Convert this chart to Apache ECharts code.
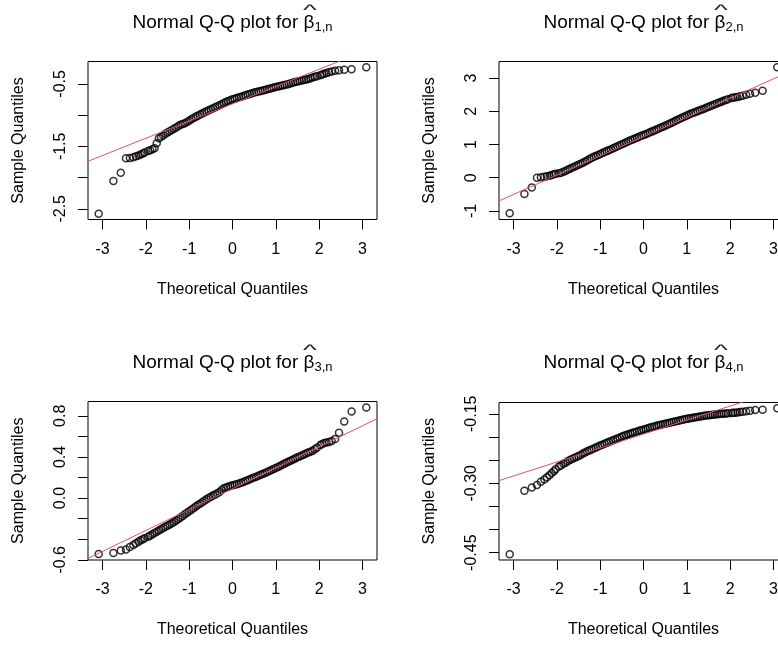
<!DOCTYPE html>
<html><head><meta charset="utf-8">
<script src="https://cdn.jsdelivr.net/npm/echarts@6/dist/echarts.min.js"></script>
<style>html,body{margin:0;padding:0;background:#fff}#c{width:778px;height:646px}</style>
</head><body><div id="c"></div>
<script>
// Theoretical normal quantiles (shared by all four panels)
const theoretical = [
-3.09,-2.75,-2.58,-2.46,-2.37,-2.29,-2.23,-2.17,-2.12,-2.07,-2.03,
-1.95,-1.9,-1.85,-1.8,-1.75,-1.7,-1.65,-1.6,-1.55,-1.5,
-1.45,-1.4,-1.35,-1.3,-1.25,-1.2,-1.15,-1.1,-1.05,-1,
-0.95,-0.9,-0.85,-0.8,-0.75,-0.7,-0.65,-0.6,-0.55,-0.5,
-0.45,-0.4,-0.35,-0.3,-0.25,-0.2,-0.15,-0.1,-0.05,0,
0.05,0.1,0.15,0.2,0.25,0.3,0.35,0.4,0.45,0.5,
0.55,0.6,0.65,0.7,0.75,0.8,0.85,0.9,0.95,1,
1.05,1.1,1.15,1.2,1.25,1.3,1.35,1.4,1.45,1.5,
1.55,1.6,1.65,1.7,1.75,1.8,1.85,1.9,1.95,
2.03,2.07,2.12,2.17,2.23,2.29,2.37,2.46,2.58,2.75,3.09];

const sampleB1 = [
-2.58,-2.054,-1.925,-1.69,-1.685,-1.675,-1.66,-1.645,-1.63,-1.615,-1.60,
-1.575,-1.562,-1.548,-1.53,-1.45,-1.37,-1.345,-1.325,-1.30,-1.277,
-1.258,-1.24,-1.218,-1.197,-1.175,-1.154,-1.143,-1.132,-1.11,-1.09,
-1.068,-1.047,-1.028,-1.009,-0.99,-0.972,-0.955,-0.939,-0.923,-0.907,
-0.891,-0.875,-0.859,-0.843,-0.824,-0.805,-0.789,-0.773,-0.76,-0.747,
-0.736,-0.725,-0.714,-0.704,-0.693,-0.682,-0.671,-0.661,-0.65,-0.639,
-0.631,-0.623,-0.615,-0.607,-0.596,-0.586,-0.578,-0.57,-0.559,-0.548,
-0.54,-0.532,-0.524,-0.516,-0.508,-0.5,-0.49,-0.479,-0.47,-0.462,
-0.454,-0.446,-0.438,-0.43,-0.42,-0.409,-0.398,-0.387,-0.376,
-0.36,-0.35,-0.338,-0.326,-0.312,-0.3,-0.29,-0.28,-0.272,-0.266,-0.235];

const sampleB2 = [
-1.07,-0.494,-0.293,0.0,0.01,0.03,0.045,0.06,0.08,0.1,0.115,
0.13,0.15,0.18,0.2,0.24,0.27,0.3,0.33,0.36,0.39,
0.42,0.45,0.49,0.52,0.56,0.59,0.63,0.655,0.68,0.71,
0.74,0.77,0.8,0.83,0.86,0.89,0.92,0.95,0.98,1.01,
1.04,1.07,1.1,1.125,1.15,1.18,1.205,1.23,1.26,1.285,
1.31,1.34,1.365,1.395,1.42,1.45,1.48,1.51,1.535,1.565,
1.595,1.625,1.655,1.685,1.72,1.75,1.78,1.81,1.84,1.87,
1.9,1.93,1.955,1.98,2.005,2.03,2.055,2.08,2.11,2.135,
2.16,2.19,2.215,2.24,2.265,2.29,2.315,2.34,2.36,
2.4,2.41,2.42,2.43,2.45,2.47,2.5,2.53,2.56,2.62,3.33];

const sampleB3 = [
-0.544,-0.533,-0.51,-0.5,-0.475,-0.455,-0.44,-0.425,-0.41,-0.4,-0.39,
-0.375,-0.365,-0.352,-0.34,-0.328,-0.315,-0.302,-0.29,-0.279,-0.268,
-0.256,-0.245,-0.232,-0.218,-0.203,-0.188,-0.173,-0.158,-0.143,-0.128,
-0.113,-0.098,-0.083,-0.068,-0.054,-0.04,-0.025,-0.011,0.002,0.014,
0.025,0.036,0.046,0.058,0.078,0.096,0.104,0.111,0.118,0.124,
0.13,0.135,0.141,0.149,0.157,0.165,0.174,0.183,0.192,0.2,
0.208,0.217,0.226,0.235,0.244,0.254,0.264,0.273,0.282,0.292,
0.302,0.313,0.324,0.335,0.346,0.356,0.366,0.376,0.386,0.396,
0.405,0.415,0.424,0.434,0.442,0.45,0.46,0.475,0.49,
0.515,0.525,0.535,0.54,0.545,0.555,0.575,0.635,0.745,0.842,0.88];

const sampleB4 = [
-0.4532,-0.316,-0.309,-0.3036,-0.297,-0.292,-0.287,-0.2825,-0.278,-0.274,-0.27,
-0.264,-0.261,-0.258,-0.2555,-0.2525,-0.2497,-0.2478,-0.2455,-0.2432,-0.241,
-0.2388,-0.2357,-0.2335,-0.2311,-0.229,-0.2269,-0.2248,-0.2227,-0.2206,-0.2187,
-0.2168,-0.2148,-0.2128,-0.2109,-0.209,-0.207,-0.2051,-0.2031,-0.2011,-0.1992,
-0.1975,-0.1959,-0.1943,-0.1928,-0.1912,-0.1897,-0.1882,-0.1868,-0.1854,-0.184,
-0.1826,-0.1812,-0.1798,-0.1785,-0.1772,-0.176,-0.1749,-0.1738,-0.1727,-0.1715,
-0.1703,-0.1692,-0.1681,-0.1671,-0.166,-0.165,-0.1639,-0.1629,-0.1619,-0.1608,
-0.16,-0.1592,-0.1584,-0.1576,-0.1567,-0.1559,-0.1551,-0.1543,-0.1537,-0.1531,
-0.1525,-0.152,-0.1515,-0.151,-0.1505,-0.15,-0.1497,-0.1493,-0.149,
-0.1485,-0.148,-0.1475,-0.147,-0.1462,-0.1455,-0.1445,-0.1432,-0.1418,-0.1412,-0.1382];

// qqline (intercept, slope) per panel
const lineIntercept = [-0.818, 1.236, 0.092, -0.1937];
const lineSlope = [0.276, 0.58, 0.2035, 0.0302];

// Axis ticks and labels
const xTicks = [-3,-2,-1,0,1,2,3];
const yTicks1 = [-2.5,-2,-1.5,-1,-0.5];   const yLabels1 = [-2.5,-1.5,-0.5];
const yTicks2 = [-1,0,1,2,3];             const yLabels2 = [-1,0,1,2,3];
const yTicks3 = [-0.6,-0.4,-0.2,0,0.2,0.4,0.6,0.8]; const yLabels3 = [-0.6,0,0.4,0.8];
const yTicks4 = [-0.45,-0.4,-0.35,-0.3,-0.25,-0.2,-0.15]; const yLabels4 = [-0.45,-0.3,-0.15];
const subscripts = ['1,n','2,n','3,n','4,n'];

const FONT = '"Liberation Sans", Arial, sans-serif';
const xMin = -3.337, xMax = 3.337;

const panels = [
  {s: sampleB1, yMin: -2.672, yMax: -0.141, ticks: yTicks1, labels: yLabels1, dec: 1, left: 88,  top: 61.5, h: 158},
  {s: sampleB2, yMin: -1.26,  yMax: 3.50,   ticks: yTicks2, labels: yLabels2, dec: 0, left: 499, top: 61.5, h: 158},
  {s: sampleB3, yMin: -0.602, yMax: 0.939,  ticks: yTicks3, labels: yLabels3, dec: 1, left: 88,  top: 401.5, h: 158.5},
  {s: sampleB4, yMin: -0.4658,yMax: -0.1256,ticks: yTicks4, labels: yLabels4, dec: 2, left: 499, top: 402.5, h: 157.5}
];

const grid = [], xAxis = [], yAxis = [], series = [], title = [], graphic = [];
panels.forEach((p, i) => {
  grid.push({left: p.left, top: p.top, width: 289, height: p.h, show: true,
    borderColor: '#000', borderWidth: 1, backgroundColor: 'transparent', outerBoundsMode: 'none'});
  xAxis.push({type: 'value', gridIndex: i, min: xMin, max: xMax,
    name: 'Theoretical Quantiles', nameLocation: 'middle', nameGap: 62,
    nameTextStyle: {fontSize: 16, color: '#000', fontFamily: FONT},
    axisLine: {show: false, onZero: false},
    axisTick: {show: true, length: 10, customValues: xTicks, lineStyle: {color: '#000', width: 1}},
    axisLabel: {customValues: xTicks, margin: 22, fontSize: 16, color: '#000', fontFamily: FONT,
      formatter: v => String(v)},
    splitLine: {show: false}});
  yAxis.push({type: 'value', gridIndex: i, min: p.yMin, max: p.yMax,
    name: 'Sample Quantiles', nameLocation: 'middle', nameGap: 61,
    nameTextStyle: {fontSize: 16, color: '#000', fontFamily: FONT},
    axisLine: {show: false, onZero: false},
    axisTick: {show: true, length: 10, customValues: p.ticks, lineStyle: {color: '#000', width: 1}},
    axisLabel: {customValues: p.labels, rotate: 90, margin: 19, fontSize: 16, color: '#000', fontFamily: FONT,
      formatter: v => Number(v).toFixed(p.dec)},
    splitLine: {show: false}});
  series.push({type: 'scatter', xAxisIndex: i, yAxisIndex: i, silent: true, z: 2,
    data: theoretical.map((x, k) => [x, p.s[k]]),
    symbol: 'circle', symbolSize: 7,
    itemStyle: {color: 'rgba(0,0,0,0)', borderColor: '#000', borderWidth: 1.5}});
  series.push({type: 'line', xAxisIndex: i, yAxisIndex: i, silent: true, z: 3, clip: true,
    showSymbol: false, symbol: 'none',
    data: [xMin, xMax].map(x => [x, lineIntercept[i] + lineSlope[i] * x]),
    lineStyle: {color: '#DF536B', width: 1}});
  const cx = p.left + 144.5;
  const ty = i < 2 ? 12 : 352;
  title.push({text: 'Normal Q-Q plot for {b|β}{s|' + subscripts[i] + '}', left: cx, top: ty,
    textAlign: 'center', padding: 0,
    textStyle: {fontSize: 19, fontWeight: 'normal', color: '#000', fontFamily: FONT, lineHeight: 22,
      rich: {b: {fontSize: 19, lineHeight: 22, color: '#000', fontFamily: FONT},
             s: {fontSize: 13, lineHeight: 13, verticalAlign: 'bottom', color: '#000', fontFamily: FONT}}}});
  graphic.push({type: 'text', x: cx + 77.5, y: (i < 2 ? 11 : 351), scaleX: 2.1, silent: true,
    style: {text: '^', fontSize: 14, fill: '#222', fontFamily: FONT, align: 'center', verticalAlign: 'middle'}});
});

const chart = echarts.init(document.getElementById('c'), null, {renderer: 'canvas'});
chart.setOption({animation: false, backgroundColor: '#fff', title, grid, xAxis, yAxis, series, graphic});
</script></body></html>
